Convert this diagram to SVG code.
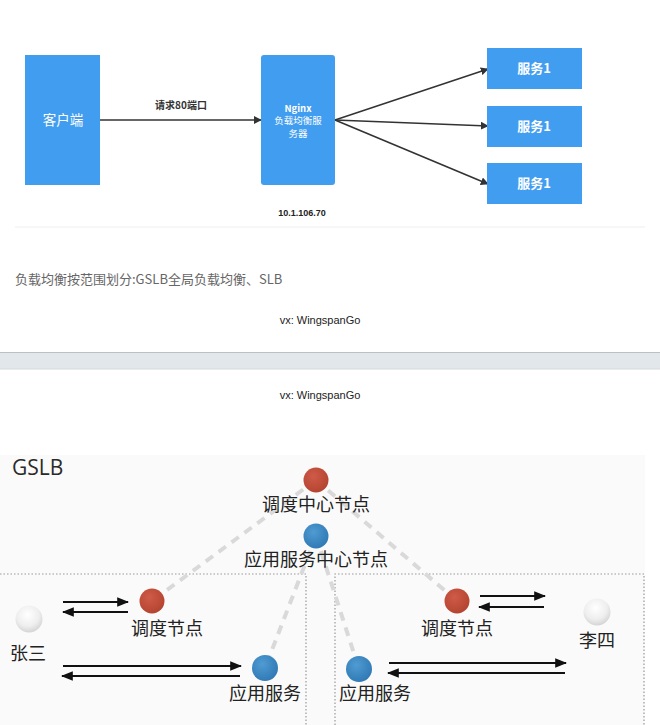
<svg xmlns="http://www.w3.org/2000/svg" width="660" height="725" viewBox="0 0 660 725">
<style>
.cjk{font-family:"Noto Sans CJK SC","Noto Sans",sans-serif}
.box{fill:#419df0}
.wt{fill:#fff;font-family:"Noto Sans CJK SC","Noto Sans",sans-serif;text-anchor:middle}
.ln{stroke:#333;stroke-width:1.6;fill:none}
.bk{stroke:#111;stroke-width:2;fill:none}
.dash{stroke:#d9d9d9;stroke-width:4;stroke-dasharray:9 7;fill:none}
.dot{stroke:#999;stroke-width:1.2;stroke-dasharray:1.5 2;fill:none}
.lbl{font-family:"Noto Sans CJK SC","Noto Sans",sans-serif;font-size:18px;fill:#222;text-anchor:middle}
.vx{font-family:"Liberation Sans",sans-serif;font-size:11px;fill:#222;text-anchor:middle}
</style>
<defs>
<marker id="ah" viewBox="0 0 10 10" refX="9" refY="5" markerWidth="8" markerHeight="8" markerUnits="userSpaceOnUse" orient="auto"><path d="M0,0 L10,5 L0,10 Z" fill="#333"/></marker>
<marker id="ah2" viewBox="0 0 10 10" refX="9" refY="5" markerWidth="12" markerHeight="12" markerUnits="userSpaceOnUse" orient="auto"><path d="M0,1 L10,5 L0,9 Z" fill="#111"/></marker>
<radialGradient id="gr" cx="0.4" cy="0.35" r="0.7"><stop offset="0" stop-color="#cf5a48"/><stop offset="1" stop-color="#b2432f"/></radialGradient>
<radialGradient id="gb" cx="0.4" cy="0.35" r="0.7"><stop offset="0" stop-color="#4f9bd2"/><stop offset="1" stop-color="#2f78b4"/></radialGradient>
<radialGradient id="gw" cx="0.45" cy="0.35" r="0.7"><stop offset="0" stop-color="#ffffff"/><stop offset="0.6" stop-color="#eeeeee"/><stop offset="1" stop-color="#cfcfcf"/></radialGradient>
</defs>
<rect width="660" height="725" fill="#fff"/>
<line x1="15" y1="227" x2="645" y2="227" stroke="#eeeeee" stroke-width="1"/>

<g id="connectors-top">
<line class="ln" x1="100" y1="120" x2="261" y2="120" marker-end="url(#ah)"/>
<line class="ln" x1="335" y1="120" x2="488" y2="69" marker-end="url(#ah)"/>
<line class="ln" x1="335" y1="120" x2="488" y2="126" marker-end="url(#ah)"/>
<line class="ln" x1="335" y1="120" x2="488" y2="184" marker-end="url(#ah)"/>
<text x="181" y="109" font-family="'Noto Sans CJK SC',sans-serif" font-size="10" font-weight="bold" fill="#333" text-anchor="middle">请求80端口</text>
</g>
<g id="client"><rect class="box" x="25" y="55" width="75" height="130"/><text class="wt" x="63" y="125" font-size="13.5">客户端</text></g>
<g id="nginx"><rect class="box" x="261" y="55" width="74" height="130" rx="3"/>
<text class="wt" x="298" y="111.5" font-size="9.5" font-weight="bold">Nginx</text>
<text class="wt" x="298" y="124" font-size="9.5">负载均衡服</text>
<text class="wt" x="298" y="136.5" font-size="9.5">务器</text></g>
<text x="302" y="216" font-family="'Liberation Sans',sans-serif" font-size="9" font-weight="bold" fill="#222" text-anchor="middle">10.1.106.70</text>
<g id="svc1"><rect class="box" x="487" y="48" width="95" height="41"/><text class="wt" x="534" y="73" font-size="13" font-weight="bold">服务1</text></g>
<g id="svc2"><rect class="box" x="487" y="106" width="95" height="41"/><text class="wt" x="534" y="131" font-size="13" font-weight="bold">服务1</text></g>
<g id="svc3"><rect class="box" x="487" y="163" width="95" height="41"/><text class="wt" x="534" y="188" font-size="13" font-weight="bold">服务1</text></g>

<text x="15" y="284" class="cjk" font-size="13" fill="#666">负载均衡按范围划分:GSLB全局负载均衡、SLB</text>
<text x="320" y="324" class="vx">vx: WingspanGo</text>
<rect x="0" y="352" width="660" height="17" fill="#e1e7eb"/>
<line x1="0" y1="352.5" x2="660" y2="352.5" stroke="#b9c1c6" stroke-width="1"/>
<line x1="0" y1="369" x2="660" y2="369" stroke="#d3d9dc" stroke-width="1"/>
<text x="320" y="399" class="vx">vx: WingspanGo</text>

<rect x="0" y="455" width="645" height="270" fill="#fafafa"/>
<text x="12" y="475" font-family="'Open Sans','Noto Sans',sans-serif" font-size="21" fill="#2a2a2a">GSLB</text>
<path class="dot" d="M0,574 H306 V725"/>
<path class="dot" d="M335,725 V574 H644 V725"/>

<g id="connectors">
<line class="dash" x1="316" y1="480" x2="152" y2="601"/>
<line class="dash" x1="316" y1="480" x2="457" y2="601"/>
<line class="dash" x1="316" y1="536" x2="265" y2="668"/>
<line class="dash" x1="316" y1="536" x2="359" y2="669"/>
<line class="bk" x1="63" y1="602" x2="128" y2="602" marker-end="url(#ah2)"/>
<line class="bk" x1="128" y1="612" x2="63" y2="612" marker-end="url(#ah2)"/>
<line class="bk" x1="63" y1="666" x2="241" y2="666" marker-end="url(#ah2)"/>
<line class="bk" x1="240" y1="676" x2="62" y2="676" marker-end="url(#ah2)"/>
<line class="bk" x1="480" y1="596" x2="545" y2="596" marker-end="url(#ah2)"/>
<line class="bk" x1="544" y1="607" x2="479" y2="607" marker-end="url(#ah2)"/>
<line class="bk" x1="389" y1="663" x2="566" y2="663" marker-end="url(#ah2)"/>
<line class="bk" x1="565" y1="673" x2="388" y2="673" marker-end="url(#ah2)"/>
</g>
<g id="dispatch-center"><circle cx="316" cy="480" r="12.5" fill="url(#gr)"/><text class="lbl" x="316" y="511">调度中心节点</text></g>
<g id="app-center"><circle cx="316" cy="536" r="12.5" fill="url(#gb)"/><text class="lbl" x="316" y="566">应用服务中心节点</text></g>
<g id="zhangsan"><circle cx="29" cy="619" r="13.5" fill="url(#gw)"/><text class="lbl" x="28" y="660">张三</text></g>
<g id="dispatch-left"><circle cx="152" cy="601" r="12.5" fill="url(#gr)"/><text class="lbl" x="167" y="635">调度节点</text></g>
<g id="app-left"><circle cx="265" cy="668" r="13" fill="url(#gb)"/><text class="lbl" x="265" y="700">应用服务</text></g>
<g id="dispatch-right"><circle cx="457" cy="601" r="12.5" fill="url(#gr)"/><text class="lbl" x="457" y="635">调度节点</text></g>
<g id="lisi"><circle cx="597" cy="612" r="13.5" fill="url(#gw)"/><text class="lbl" x="597" y="647">李四</text></g>
<g id="app-right"><circle cx="359" cy="669" r="13" fill="url(#gb)"/><text class="lbl" x="375" y="700">应用服务</text></g>
</svg>
